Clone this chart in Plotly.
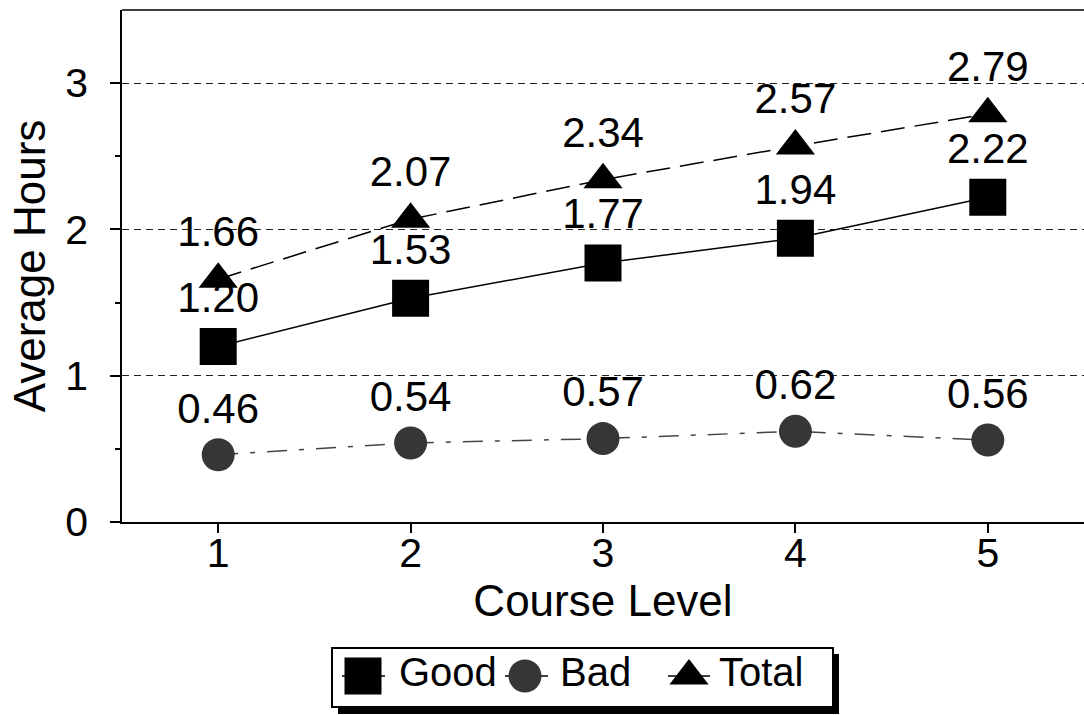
import plotly.graph_objects as go

# Average hours per course level
levels = [1, 2, 3, 4, 5]
good = [1.20, 1.53, 1.77, 1.94, 2.22]
bad = [0.46, 0.54, 0.57, 0.62, 0.56]
total = [1.66, 2.07, 2.34, 2.57, 2.79]
legend_names = ["Good", "Bad", "Total"]

FONT = "Arial, Liberation Sans, sans-serif"
W, H = 1084, 715
ML, MT = 122, 10
PLOT_W = W - ML
PLOT_H = H - MT
Y_BOTTOM_PX = 522  # pixel row of the x axis


def px_x(p):
    return (p - ML) / PLOT_W


def px_y(p):
    return (H - p) / PLOT_H


fig = go.Figure()

label_font = dict(family=FONT, size=42, color="black")

fig.add_trace(go.Scatter(
    x=levels, y=good, mode="lines+markers+text",
    text=[f"{v:.2f}" for v in good], textposition="top center",
    textfont=label_font,
    line=dict(color="black", width=1.5),
    marker=dict(symbol="square", size=37, color="black"),
    cliponaxis=False, showlegend=False,
))
fig.add_trace(go.Scatter(
    x=levels, y=bad, mode="lines+markers+text",
    text=[f"{v:.2f}" for v in bad], textposition="top center",
    textfont=label_font,
    line=dict(color="#444444", width=1.5, dash="20px,12px,5px,12px"),
    marker=dict(symbol="circle", size=33, color="#363636"),
    cliponaxis=False, showlegend=False,
))
fig.add_trace(go.Scatter(
    x=levels, y=total, mode="lines+markers+text",
    text=[f"{v:.2f}" for v in total], textposition="top center",
    textfont=label_font,
    line=dict(color="black", width=1.5, dash="24px,10px"),
    marker=dict(symbol="triangle-up", size=34, color="black"),
    cliponaxis=False, showlegend=False,
))

# Legend drawn on a helper axis pair whose units are page pixels
leg_items = [
    dict(sym="square", size=37, color="black", lx=(342, 385), mx=363, tx=397),
    dict(sym="circle", size=33, color="#363636", lx=(505, 548), mx=525, tx=558),
    dict(sym="triangle-up", size=34, color="black", lx=(668, 710), mx=689, tx=717),
]
LEG_Y = 676
for name, it in zip(legend_names, leg_items):
    fig.add_trace(go.Scatter(
        x=[it["lx"][0], it["lx"][1]], y=[LEG_Y, LEG_Y], mode="lines",
        line=dict(color="black", width=1.5), xaxis="x2", yaxis="y2",
        showlegend=False, hoverinfo="skip",
    ))
    fig.add_trace(go.Scatter(
        x=[it["mx"]], y=[LEG_Y], mode="markers",
        marker=dict(symbol=it["sym"], size=it["size"], color=it["color"]),
        xaxis="x2", yaxis="y2", showlegend=False, hoverinfo="skip",
    ))
    fig.add_annotation(
        x=it["tx"], y=LEG_Y - 4, xref="x2", yref="y2", text=name,
        showarrow=False, xanchor="left", yanchor="middle",
        font=dict(family=FONT, size=40, color="black"),
    )

shapes = [
    # top frame line
    dict(type="line", xref="paper", yref="paper", x0=0, x1=1, y0=1, y1=1,
         line=dict(color="black", width=1.5)),
    # legend shadow and box
    dict(type="rect", xref="paper", yref="paper",
         x0=px_x(338), x1=px_x(839), y0=px_y(714), y1=px_y(654),
         fillcolor="black", line=dict(width=0), layer="below"),
    dict(type="rect", xref="paper", yref="paper",
         x0=px_x(332), x1=px_x(833), y0=px_y(707), y1=px_y(648),
         fillcolor="white", line=dict(color="black", width=2), layer="below"),
]

fig.update_layout(
    width=W, height=H,
    margin=dict(l=ML, r=0, t=MT, b=0, autoexpand=False),
    paper_bgcolor="white", plot_bgcolor="rgba(0,0,0,0)",
    font=dict(family=FONT, color="black"),
    shapes=shapes,
    xaxis=dict(
        domain=[0, 1], range=[0.5, 5.5], tickvals=levels,
        ticks="outside", ticklen=9, tickwidth=1.5, tickcolor="black",
        showline=True, linecolor="black", linewidth=1.5,
        showgrid=False, zeroline=False, ticklabelstandoff=-15,
        tickfont=dict(family=FONT, size=41, color="black"),
        title=dict(text="Course Level", standoff=4,
                   font=dict(family=FONT, size=44, color="black")),
        anchor="y",
    ),
    yaxis=dict(
        domain=[px_y(Y_BOTTOM_PX), 1], range=[0, 3.5], tickvals=[0, 1, 2, 3],
        ticks="outside", ticklen=10, tickwidth=1.5, tickcolor="black",
        minor=dict(tickvals=[0.5, 1.5, 2.5], ticks="outside", ticklen=5,
                   tickcolor="black", showgrid=False),
        showline=True, linecolor="black", linewidth=1.5,
        showgrid=True, gridcolor="#222222", gridwidth=1, griddash="7px,5px",
        zeroline=False, ticklabelstandoff=14,
        tickfont=dict(family=FONT, size=41, color="black"),
        title=dict(text="Average Hours", standoff=6,
                   font=dict(family=FONT, size=44, color="black")),
        anchor="x",
    ),
    xaxis2=dict(domain=[0, 1], range=[ML, W], visible=False, anchor="y2",
                fixedrange=True),
    yaxis2=dict(domain=[0, px_y(600)], range=[H, 600], visible=False,
                anchor="x2", fixedrange=True),
)

fig.write_html("out.html")
